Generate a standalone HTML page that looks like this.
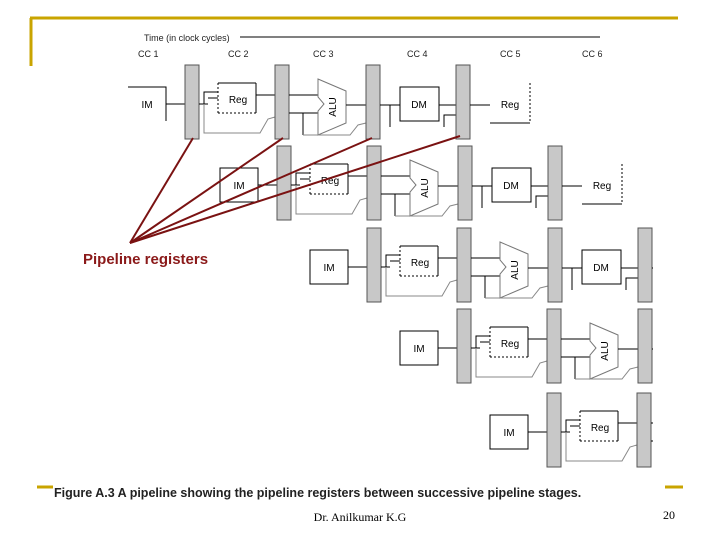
<!DOCTYPE html>
<html><head><meta charset="utf-8"><style>
html,body{margin:0;padding:0;background:#fff;}
svg{display:block;}
text{font-family:"Liberation Sans",sans-serif;}
</style></head><body>
<svg width="720" height="540" viewBox="0 0 720 540" xmlns="http://www.w3.org/2000/svg">
<defs>
<clipPath id="c"><rect x="0" y="0" width="653" height="540"/></clipPath>
<g id="rest" fill="none" stroke="#000" stroke-width="1">
  <line x1="38" y1="39" x2="57" y2="39"/>
  <rect x="57" y="0" width="14" height="74" fill="#c8c8c8" stroke="#555"/>
  <line x1="71" y1="39" x2="80" y2="39"/>
  <polyline points="76,39 76,27 90,27"/>
  <line x1="80" y1="33" x2="90" y2="33"/>
  <line x1="90" y1="18" x2="90" y2="48" stroke-dasharray="2,2"/>
  <line x1="90" y1="48" x2="128" y2="48" stroke-dasharray="2,2"/>
  <line x1="90" y1="18" x2="128" y2="18"/>
  <line x1="128" y1="18" x2="128" y2="48"/>
  <line x1="128" y1="30" x2="147" y2="30"/>
  <text x="110" y="38" font-size="10" text-anchor="middle" stroke="none" fill="#000">Reg</text>
  <polyline points="76,39 76,68 132,68 140,54 147,52" stroke="#888"/>
  <rect x="147" y="0" width="14" height="74" fill="#c8c8c8" stroke="#555"/>
  <line x1="161" y1="30" x2="190" y2="30"/>
  <line x1="161" y1="48" x2="190" y2="48"/>
  <line x1="175" y1="48" x2="175" y2="70"/>
  <polygon points="190,14 218,26 218,58 190,70 190,46 196,39 190,32" fill="#fff" stroke="#777"/>
  <text x="0" y="0" font-size="10" text-anchor="middle" stroke="none" fill="#000" transform="translate(208,42) rotate(-90)">ALU</text>
  <polyline points="175,70 222,70 230,60 238,58" stroke="#888"/>
  <line x1="218" y1="40" x2="238" y2="40"/>
  <rect x="238" y="0" width="14" height="74" fill="#c8c8c8" stroke="#555"/>
  <line x1="252" y1="40" x2="272" y2="40"/>
  <line x1="262" y1="40" x2="262" y2="62"/>
  <rect x="272" y="22" width="39" height="34" fill="#fff"/>
  <text x="291" y="43" font-size="10" text-anchor="middle" stroke="none" fill="#000">DM</text>
  <line x1="311" y1="40" x2="328" y2="40"/>
  <polyline points="316,62 316,50 328,50"/>
  <rect x="328" y="0" width="14" height="74" fill="#c8c8c8" stroke="#555"/>
  <line x1="342" y1="40" x2="362" y2="40"/>
  <line x1="362" y1="58" x2="402" y2="58"/>
  <line x1="402" y1="18" x2="402" y2="58" stroke-dasharray="2,2"/>
  <text x="382" y="43" font-size="10" text-anchor="middle" stroke="none" fill="#000">Reg</text>
</g>
<g id="stage">
  <rect x="0" y="22" width="38" height="34" fill="#fff" stroke="#000"/>
  <text x="19" y="43" font-size="10" text-anchor="middle" fill="#000">IM</text>
  <use href="#rest"/>
</g>
<g id="stage1">
  <polyline points="0,22 38,22 38,56" fill="none" stroke="#000"/>
  <text x="19" y="43" font-size="10" text-anchor="middle" fill="#000">IM</text>
  <use href="#rest"/>
</g>
</defs>
<line x1="30" y1="18" x2="678" y2="18" stroke="#c9a400" stroke-width="3"/>
<line x1="31" y1="18" x2="31" y2="66" stroke="#c9a400" stroke-width="3"/>
<line x1="37" y1="487" x2="53" y2="487" stroke="#c9a400" stroke-width="3"/>
<line x1="665" y1="487" x2="683" y2="487" stroke="#c9a400" stroke-width="3"/>
<text x="144" y="41" font-size="9" fill="#222">Time (in clock cycles)</text>
<line x1="240" y1="37" x2="600" y2="37" stroke="#000" stroke-width="1"/>
<g font-size="9" fill="#222">
<text x="138" y="57">CC 1</text><text x="228" y="57">CC 2</text><text x="313" y="57">CC 3</text>
<text x="407" y="57">CC 4</text><text x="500" y="57">CC 5</text><text x="582" y="57">CC 6</text>
</g>
<g clip-path="url(#c)">
<use href="#stage1" x="128" y="65"/>
<use href="#stage" x="220" y="146"/>
<use href="#stage" x="310" y="228"/>
<use href="#stage" x="400" y="309"/>
<use href="#stage" x="490" y="393"/>
</g>
<g stroke="#7a1212" stroke-width="2">
<line x1="130" y1="243" x2="193" y2="138"/>
<line x1="130" y1="243" x2="283" y2="138"/>
<line x1="130" y1="243" x2="372" y2="138"/>
<line x1="130" y1="243" x2="460" y2="136"/>
</g>
<text x="83" y="264" font-size="15" font-weight="bold" fill="#8b1a1a">Pipeline registers</text>
<text x="54" y="497" font-size="12.5" font-weight="bold" fill="#222">Figure A.3  A pipeline showing the pipeline registers between successive pipeline stages.</text>
<text x="360" y="521" font-size="12" text-anchor="middle" style="font-family:'Liberation Serif',serif">Dr. Anilkumar K.G</text>
<text x="663" y="519" font-size="12" style="font-family:'Liberation Serif',serif">20</text>
</svg>
</body></html>
